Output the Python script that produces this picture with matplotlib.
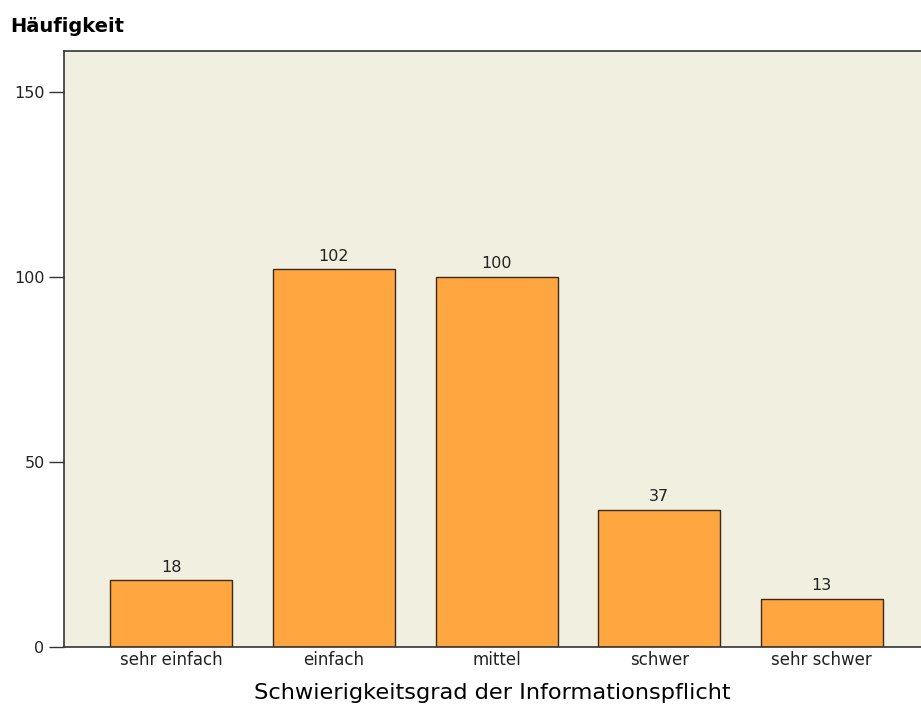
import matplotlib
matplotlib.use("Agg")
from matplotlib import pyplot as plt

categories = ["sehr einfach", "einfach", "mittel", "schwer", "sehr schwer"]
counts = [18, 102, 100, 37, 13]
y_ticks = [0, 50, 100, 150]

BG = "#f1efdf"
BAR = "#ffa640"
EDGE = "#3a2a1e"
TXT = "#222222"

plt.rcParams["font.family"] = ["DejaVu Sans"]

fig = plt.figure(figsize=(9.21, 7.06), dpi=100)
ax = fig.add_axes([64 / 921, 59 / 706, 1 - 64 / 921, 596 / 706])
ax.set_facecolor(BG)

x = range(len(categories))
ax.bar(x, counts, width=0.75, color=BAR, edgecolor=EDGE, linewidth=1.0, zorder=2)

# value labels above each bar
for xi, v in zip(x, counts):
    ax.annotate(str(v), (xi, v), xytext=(0, 4), textcoords="offset points",
                ha="center", va="bottom", fontsize=11.5, color=TXT)

ax.set_xlim(-0.66, 4.61)
ax.set_ylim(0, 161)
ax.set_yticks(y_ticks)
ax.set_yticklabels([str(t) for t in y_ticks], fontsize=11.5, color=TXT)
ax.set_xticks(list(x))
ax.set_xticklabels(categories, fontsize=12, color=TXT)
ax.tick_params(axis="x", length=0, pad=3)
ax.tick_params(axis="y", length=11, width=1.0, color="#333333", pad=3)

for side in ["top", "left", "bottom"]:
    ax.spines[side].set_color("#333333")
    ax.spines[side].set_linewidth(1.2)
ax.spines["right"].set_visible(False)

ax.set_xlabel("Schwierigkeitsgrad der Informationspflicht", fontsize=16.2, labelpad=10)
fig.text(10 / 921, 1 - 27 / 706, "Häufigkeit", fontsize=14, fontweight="bold",
         ha="left", va="center")

fig.savefig("out.png", dpi=100, facecolor="white")
